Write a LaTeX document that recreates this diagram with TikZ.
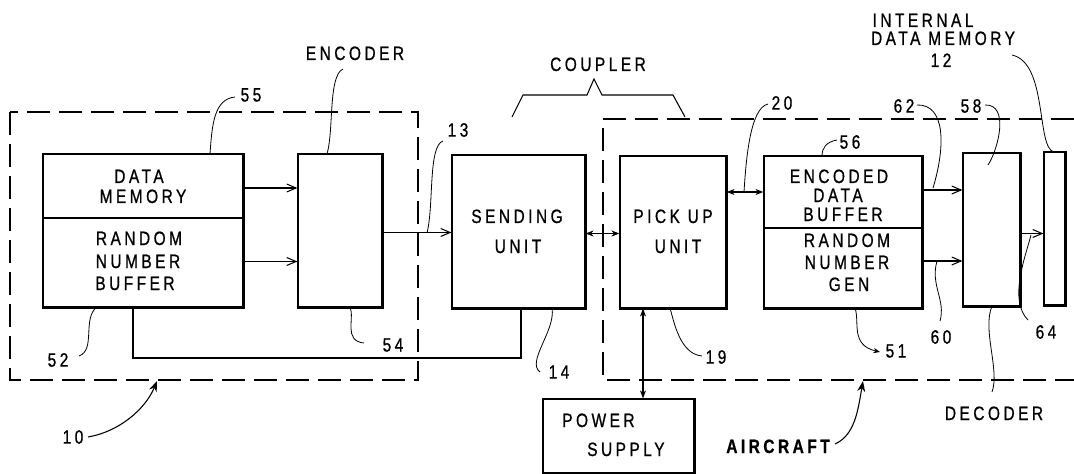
\documentclass[tikz,border=0pt]{standalone}
\usepackage{fontspec}
\setmainfont{Liberation Sans}[FakeStretch=0.8,LetterSpace=18,FakeBold=0.8]
\usetikzlibrary{fit,calc,arrows.meta}
\tikzset{
  box/.style={draw, line width=0.9pt, inner sep=0pt},
  txt/.style={font=\fontsize{14.5}{16}\selectfont, inner sep=0pt, anchor=base},
  lbl/.style={font=\fontsize{14.5}{16}\selectfont, inner sep=0pt},
  conn/.style={line width=0.8pt},
  sarrow/.style={conn, -{Straight Barb[length=7pt,width=6pt]}},
  darrow/.style={conn, {Stealth[length=6pt,width=4.5pt]}-{Stealth[length=6pt,width=4.5pt]}},
  leader/.style={line width=0.6pt},
  grp/.style={line width=1pt, dash pattern=on 17pt off 7pt},
  thickedge/.style={line width=1.8pt}
}
\begin{document}
\begin{tikzpicture}[x=0.75pt,y=-0.75pt]
\useasboundingbox (0,0) rectangle (1074,474);

% group outlines
\draw[grp] (10,112) rectangle (418,380);
\draw[grp] (1074,119) -- (603,119) -- (603,380) -- (1074,380);

% boxes
\node[box, fit={(43,154)(243,218)}] (dm) {};
\node[box, fit={(43,218)(243,307)}] (rnb) {};
\node[box, fit={(298,154)(382,307)}] (enc) {};
\node[box, fit={(452,155)(585,308)}] (send) {};
\node[box, fit={(620,156)(726,308)}] (pick) {};
\node[box, fit={(764,156)(922,228)}] (edb) {};
\node[box, fit={(764,228)(922,308)}] (rng) {};
\node[box, fit={(963,153)(1020,306)}] (dec) {};
\node[box, fit={(1044,152)(1065,305)}] (mem) {};
\node[box, fit={(543,399)(694,473)}] (ps) {};

% box texts
\node[txt] (dm1) at (139,183) {DATA};
\node[txt] (dm2) at (143,203) {MEMORY};
\node[txt] (rnb1) at (139,245) {RANDOM};
\node[txt] (rnb2) at (138,268) {NUMBER};
\node[txt] (rnb3) at (135,290) {BUFFER};
\node[txt] (send1) at (517,223) {SENDING};
\node[txt] (send2) at (518,253) {UNIT};
\node[txt] (pick1) at (673,223) {PICK UP};
\node[txt] (pick2) at (678,253) {UNIT};
\node[txt] (edb1) at (839,183) {ENCODED};
\node[txt] (edb2) at (838,202) {DATA};
\node[txt] (edb3) at (843,221) {BUFFER};
\node[txt] (rng1) at (847,247) {RANDOM};
\node[txt] (rng2) at (847,269) {NUMBER};
\node[txt] (rng3) at (849,291) {GEN};
\node[txt, anchor=base west] (ps1) at (562,427) {POWER};
\node[txt, anchor=base west] (ps2) at (587,456) {SUPPLY};

% heavy right/bottom edges
\foreach \b in {rnb,enc,send,pick,rng,dec,mem,ps}{
  \draw[thickedge] (\b.north east) -- (\b.south east) -- (\b.south west);
}
\draw[thickedge] (dm.north east) -- (dm.south east);
\draw[thickedge] (edb.north east) -- (edb.south east);

% connectors
\draw[sarrow] ($(dm.east)+(0,2)$) -- ($(enc.west |- dm.east)+(0,2)$);
\draw[sarrow] ($(rnb.east)+(0,-1)$) -- ($(enc.west |- rnb.east)+(0,-1)$);
\draw[sarrow] ($(enc.east)+(0,2)$) -- ($(send.west |- enc.east)+(0,2)$);
\draw[darrow] ($(send.east)+(0,2)$) -- ($(pick.west |- send.east)+(0,2)$);
\draw[darrow] (pick.east |- edb.east) -- (edb.west);
\draw[sarrow] ($(edb.east)+(0,-2)$) -- ($(dec.west |- edb.east)+(0,-2)$);
\draw[sarrow] ($(rng.east)+(0,-7)$) -- ($(dec.west |- rng.east)+(0,-7)$);
\draw[sarrow] ($(dec.east)+(0,4)$) -- ($(mem.west |- dec.east)+(0,4)$);
\coordinate (pwx) at (643,0);
\draw[darrow] (pick.south -| pwx) -- (ps.north -| pwx);
\coordinate (loopA) at (133,358);
\coordinate (loopB) at (521,358);
\draw[conn] (rnb.south -| loopA) -- (loopA) -- (loopB) -- (send.south -| loopB);

% labels
\node[txt] (tenc) at (355,60) {ENCODER};
\node[lbl] (t55) at (251,95) {55};
\node[lbl] (t13) at (458,130) {13};
\node[txt] (tcoup) at (598,71) {COUPLER};
\node[lbl] (t20) at (782,103) {20};
\node[lbl] (t62) at (904,106) {62};
\node[lbl] (t58) at (971,106) {58};
\node[lbl] (t56) at (850,142) {56};
\node[txt] (tint1) at (923,27) {INTERNAL};
\node[txt] (tint2) at (943,45) {DATA MEMORY};
\node[txt] (t12) at (941,67) {12};
\node[lbl] (t52) at (58,360) {52};
\node[lbl] (t54) at (393,345) {54};
\node[lbl] (t14) at (559,372) {14};
\node[lbl] (t19) at (716,357) {19};
\node[lbl] (t51) at (896,351) {51};
\node[lbl] (t60) at (941,337) {60};
\node[lbl] (t64) at (1046,332) {64};
\node[txt] (tdec) at (994,420) {DECODER};
\node[lbl] (t10) at (73,437) {10};
\node[txt, font=\fontsize{14.5}{16}\selectfont\bfseries] (tair) at (778,453) {AIRCRAFT};

% coupler brace
\draw[conn] (512,117) -- (523,95) -- (587,95) -- (594,79) -- (602,95) -- (673,95) -- (685,117);

% leaders
\draw[leader] (343,69) .. controls (328,76) and (334,130) .. (327,154);
\draw[leader] (235,97) .. controls (214,99) and (212,125) .. (210,154);
\draw[leader] (443,141) .. controls (428,146) and (434,205) .. (427,233);
\draw[leader] (768,104) .. controls (750,108) and (746,160) .. (744,192);
\draw[leader] (917,105) .. controls (945,104) and (946,145) .. (933,188);
\draw[leader] (985,105) .. controls (1010,104) and (998,150) .. (988,165);
\draw[leader] (837,140) .. controls (826,142) and (822,148) .. (822,156);
\draw[leader] (1012,55) .. controls (1048,63) and (1036,148) .. (1054,152);
\draw[leader] (79,356) .. controls (96,350) and (82,318) .. (97,307);
\draw[leader] (364,343) .. controls (343,341) and (355,318) .. (350,307);
\draw[leader] (540,372) .. controls (526,362) and (556,330) .. (552,308);
\draw[leader] (702,356) .. controls (680,354) and (674,322) .. (670,308);
\draw[leader, -{Stealth[length=5pt,width=4pt]}] (855,308) .. controls (860,322) and (850,345) .. (880,352);
\draw[leader] (940,321) .. controls (946,300) and (930,285) .. (937,261);
\draw[leader] (1028,320) .. controls (1008,300) and (1026,255) .. (1031,235);
\draw[leader] (992,306) .. controls (982,330) and (1000,370) .. (992,392);
\draw[conn, -{Stealth[length=8pt,width=6pt]}] (88,437) .. controls (118,432) and (145,410) .. (157,381);
\draw[conn, -{Stealth[length=8pt,width=6pt]}] (835,444) .. controls (855,435) and (858,410) .. (863,381);
\end{tikzpicture}
\end{document}
